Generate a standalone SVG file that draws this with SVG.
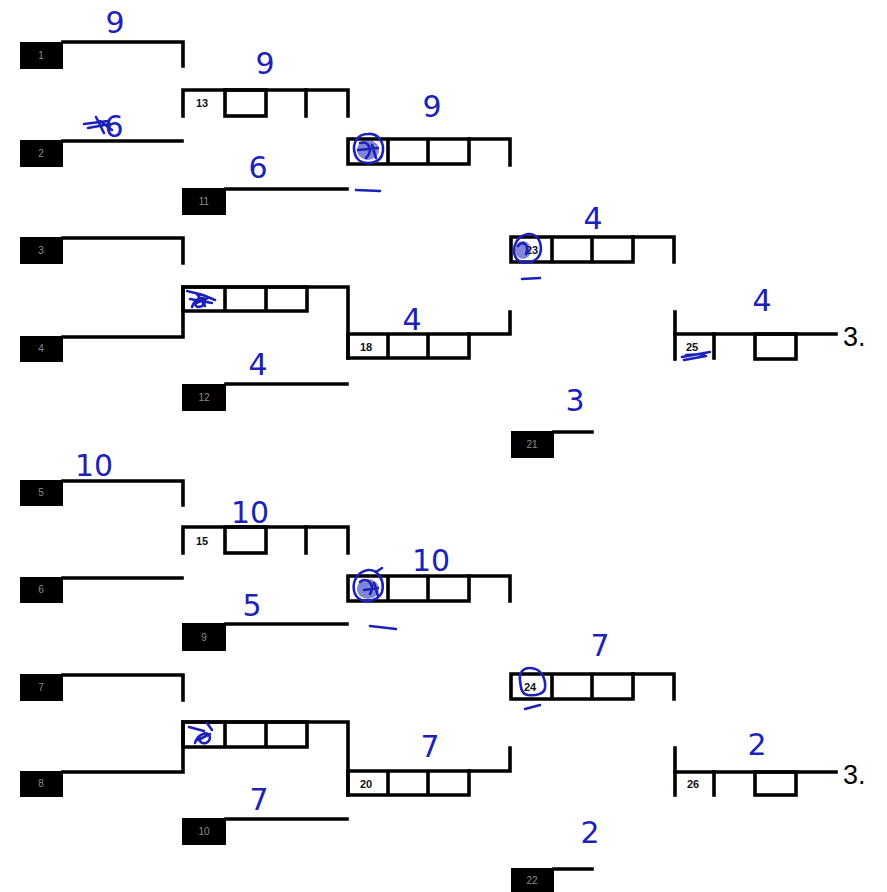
<svg xmlns="http://www.w3.org/2000/svg" width="887" height="892" viewBox="0 0 887 892">
<style>
.ln{stroke:#000;stroke-width:3.6;fill:none;stroke-linecap:square}
.blk{fill:#000}
.bn{fill:#8c8c8c;font-family:"Liberation Sans",Arial,sans-serif;font-size:10px;text-anchor:middle}
.num{fill:#111;font-family:"Liberation Sans",Arial,sans-serif;font-size:11px;font-weight:bold}
.hw{fill:#1c22b8;font-family:"DejaVu Sans",sans-serif;font-size:30px;text-anchor:middle}
.bl{stroke:#1c22b8;stroke-width:2.6;fill:none;stroke-linecap:round}
.bf{fill:#1c22b8;opacity:0.55}
.pl{fill:#000;font-family:"Liberation Sans",Arial,sans-serif;font-size:27px}
</style>
<rect width="887" height="892" fill="#fff"/>

<g id="connectors">
<path class="ln" d="M63,42 H183 V66"/>
<path class="ln" d="M63,141 H182"/>
<path class="ln" d="M183,116 V90 H348 V116"/>
<path class="ln" d="M306,90 V116"/>
<path class="ln" d="M226,189 H347"/>
<path class="ln" d="M469,139 H510 V165"/>
<path class="ln" d="M633,237 H674 V262"/>
<path class="ln" d="M63,238 H183 V263"/>
<path class="ln" d="M63,337 H183 V287 H348 V358"/>
<path class="ln" d="M469,334 H510 V312"/>
<path class="ln" d="M226,384 H347"/>
<path class="ln" d="M675,312 V359"/>
<path class="ln" d="M675,334 H836"/>
<path class="ln" d="M714,334 V358"/>
<path class="ln" d="M554,432 H592"/>
<path class="ln" d="M63,481 H183 V505"/>
<path class="ln" d="M63,578 H182"/>
<path class="ln" d="M183,553 V527 H348 V553"/>
<path class="ln" d="M306,527 V553"/>
<path class="ln" d="M226,624 H347"/>
<path class="ln" d="M469,576 H510 V601"/>
<path class="ln" d="M633,674 H674 V699"/>
<path class="ln" d="M63,675 H183 V700"/>
<path class="ln" d="M63,772 H183 V722 H348 V795"/>
<path class="ln" d="M469,771 H510 V748"/>
<path class="ln" d="M226,819 H347"/>
<path class="ln" d="M675,748 V795"/>
<path class="ln" d="M675,772 H836"/>
<path class="ln" d="M714,772 V795"/>
<path class="ln" d="M554,869 H592"/>
</g>

<g id="n1"><rect class="blk" x="20" y="42" width="43" height="27"/><text class="bn" x="41" y="59">1</text></g>
<g id="n2"><rect class="blk" x="20" y="140" width="43" height="27"/><text class="bn" x="41" y="157">2</text></g>
<g id="n3"><rect class="blk" x="20" y="237" width="43" height="27"/><text class="bn" x="41" y="254">3</text></g>
<g id="n4"><rect class="blk" x="20" y="336" width="43" height="26"/><text class="bn" x="41" y="352">4</text></g>
<g id="n5"><rect class="blk" x="20" y="480" width="43" height="26"/><text class="bn" x="41" y="496">5</text></g>
<g id="n6"><rect class="blk" x="20" y="577" width="43" height="26"/><text class="bn" x="41" y="593">6</text></g>
<g id="n7"><rect class="blk" x="20" y="674" width="43" height="27"/><text class="bn" x="41" y="691">7</text></g>
<g id="n8"><rect class="blk" x="20" y="771" width="43" height="26"/><text class="bn" x="41" y="787">8</text></g>
<g id="n11"><rect class="blk" x="182" y="188" width="44" height="27"/><text class="bn" x="204" y="205">11</text></g>
<g id="n12"><rect class="blk" x="182" y="384" width="44" height="27"/><text class="bn" x="204" y="401">12</text></g>
<g id="n9"><rect class="blk" x="182" y="623" width="44" height="28"/><text class="bn" x="204" y="641">9</text></g>
<g id="n10"><rect class="blk" x="182" y="818" width="44" height="27"/><text class="bn" x="204" y="835">10</text></g>
<g id="n21"><rect class="blk" x="511" y="431" width="43" height="27"/><text class="bn" x="532" y="448">21</text></g>
<g id="n22"><rect class="blk" x="511" y="868" width="43" height="24"/><text class="bn" x="532" y="884">22</text></g>

<g id="m13"><rect class="ln" x="225" y="90" width="41" height="26"/><text class="num" x="196" y="107">13</text></g>
<g id="m15"><rect class="ln" x="225" y="527" width="41" height="26"/><text class="num" x="196" y="545">15</text></g>
<g id="m14"><path class="ln" d="M183,287 H307 V311 H183 Z M225,287 V311 M266,287 V311"/>
<path class="bl" d="M187,291 L203,295 L215,300 M192,307 C196,296 207,296 205,302 C203,308 193,309 196,302 M190,299 L212,303 M194,304 L208,298 M197,294 L205,306"/></g>
<g id="m17"><path class="ln" d="M183,722 H307 V747 H183 Z M225,722 V747 M266,722 V747"/>
<path class="bl" d="M189,727 L204,731 M195,743 C198,733 210,730 210,738 C209,745 198,745 200,738 M207,723 L212,730 M198,740 L210,734"/></g>
<g id="m16"><path class="ln" d="M348,139 H469 V164 H348 Z M388,139 V164 M428,139 V164"/>
<ellipse class="bf" cx="368" cy="150" rx="11" ry="10"/>
<path class="bl" d="M368,134 C356,134 352,145 355,154 C358,166 378,166 382,155 C386,143 378,133 368,134 Z M360,143 C368,140 374,150 366,158 M372,145 L376,158 M358,150 L378,148"/>
<path class="bl" d="M356,190 L380,191"/></g>
<g id="m18"><path class="ln" d="M348,334 H469 V358 H348 Z M388,334 V358 M428,334 V358"/><text class="num" x="360" y="351">18</text></g>
<g id="m19"><path class="ln" d="M348,576 H469 V601 H348 Z M388,576 V601 M428,576 V601"/>
<ellipse class="bf" cx="368" cy="589" rx="11" ry="10"/>
<path class="bl" d="M368,570 C356,572 351,584 355,594 C359,604 378,603 382,592 C385,581 378,569 368,570 Z M360,582 C366,576 376,584 370,594 M374,583 L378,596 M364,590 L378,588 M376,572 L382,568"/>
<path class="bl" d="M370,626 L396,629"/></g>
<g id="m20"><path class="ln" d="M348,771 H469 V795 H348 Z M388,771 V795 M428,771 V795"/><text class="num" x="360" y="788">20</text></g>
<g id="m23"><path class="ln" d="M511,237 H633 V262 H511 Z M552,237 V262 M592,237 V262"/><text class="num" x="526" y="254">23</text>
<ellipse class="bf" cx="523" cy="250" rx="8" ry="9"/>
<path class="bl" d="M528,234 C516,236 512,248 515,256 C519,266 536,264 540,254 C543,244 538,233 528,234 Z M518,246 C522,240 530,244 526,254"/>
<path class="bl" d="M522,279 L540,278"/></g>
<g id="m24"><path class="ln" d="M511,674 H633 V699 H511 Z M552,674 V699 M592,674 V699"/><text class="num" x="524" y="691">24</text>
<path class="bl" d="M530,668 C522,668 519,674 520,680 C521,690 522,694 528,695 C536,696 544,694 545,688 C546,680 542,668 530,668 Z"/>
<path class="bl" d="M525,709 L540,705"/></g>
<g id="m25"><rect class="ln" x="755" y="334" width="41" height="25"/><text class="num" x="686" y="351">25</text>
<path class="bl" d="M682,357 L710,352 M684,360 L706,356 M686,355 L704,354"/></g>
<g id="m26"><rect class="ln" x="755" y="772" width="41" height="23"/><text class="num" x="687" y="788">26</text></g>

<text class="pl" x="843" y="346">3.</text>
<text class="pl" x="843" y="784">3.</text>

<g id="scores">
<text class="hw" x="115" y="33">9</text>
<text class="hw" x="114" y="137">6</text>
<path class="bl" d="M84,124 L108,121 M88,128 L110,124 M96,117 L104,133 M100,121 L112,130"/>
<text class="hw" x="265" y="74">9</text>
<text class="hw" x="258" y="178">6</text>
<text class="hw" x="432" y="117">9</text>
<text class="hw" x="593" y="229">4</text>
<text class="hw" x="258" y="375">4</text>
<text class="hw" x="412" y="330">4</text>
<text class="hw" x="762" y="311">4</text>
<text class="hw" x="575" y="411">3</text>
<text class="hw" x="94" y="476">10</text>
<text class="hw" x="250" y="523">10</text>
<text class="hw" x="252" y="616">5</text>
<text class="hw" x="431" y="571">10</text>
<text class="hw" x="600" y="656">7</text>
<text class="hw" x="430" y="757">7</text>
<text class="hw" x="259" y="810">7</text>
<text class="hw" x="757" y="755">2</text>
<text class="hw" x="590" y="843">2</text>
</g>
</svg>
